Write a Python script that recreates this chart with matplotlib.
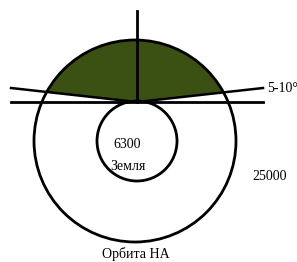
import numpy as np
import matplotlib.pyplot as plt
from matplotlib.patches import Circle, Polygon

# diagram geometry (pixel-like units, y grows downward)
orbit_center = (135, 141)
orbit_radius = 101
earth_center = (137, 141)
earth_radius = 40
horizon_y = 102
horizon_x = [11, 263]
zenith_top = 11
cone_edge_y = 88          # where the 5-10 deg lines end at x = 11 and 263
green = '#3b5114'

labels = ['6300', 'Земля', '25000', 'Орбита НА', '5-10°']
label_xy = [(127, 145), (128, 166), (252, 176), (136, 254), (267, 88)]
label_ha = ['center', 'center', 'left', 'center', 'left']

fig = plt.figure(figsize=(2.97, 2.62), dpi=100)
ax = fig.add_axes([0, 0, 1, 1])
ax.set_xlim(0, 297)
ax.set_ylim(262, 0)
ax.axis('off')

# green visibility zone: orbit arc above the two tilted lines
px, py = earth_center[0], horizon_y
slope = (cone_edge_y - horizon_y) / (horizon_x[1] - px)
cx, cy = orbit_center
r = orbit_radius

def cross(sign):
    xs = np.linspace(px, px + sign * 130, 4000)
    ys = py + slope * np.abs(xs - px)
    d = np.hypot(xs - cx, ys - cy)
    i = np.argmin(np.abs(d - r))
    return xs[i], ys[i]

xl, yl = cross(-1)
xr, yr = cross(1)
a1 = np.arctan2(yl - cy, xl - cx)
a2 = np.arctan2(yr - cy, xr - cx)
if a2 < a1:
    a2 += 2 * np.pi
ang = np.linspace(a1, a2, 200)
arc = np.column_stack([cx + r * np.cos(ang), cy + r * np.sin(ang)])
if arc[:, 1].min() > cy:
    ang = np.linspace(a1, a2 - 2 * np.pi, 200)
    arc = np.column_stack([cx + r * np.cos(ang), cy + r * np.sin(ang)])
poly = np.vstack([arc, [[px, py]]])
ax.add_patch(Polygon(poly, closed=True, facecolor=green, edgecolor='none', zorder=1))

ax.add_patch(Circle(orbit_center, orbit_radius, fill=False, lw=2, ec='black', zorder=3))
ax.add_patch(Circle(earth_center, earth_radius, fill=False, lw=2, ec='black', zorder=3))

ax.plot(horizon_x, [horizon_y, horizon_y], color='black', lw=2, zorder=4)
ax.plot([px, px], [zenith_top, horizon_y], color='black', lw=2, zorder=4)
ax.plot([horizon_x[0], px, horizon_x[1]], [cone_edge_y, horizon_y, cone_edge_y],
        color='black', lw=1.8, zorder=4)

for txt, (x, y), ha in zip(labels, label_xy, label_ha):
    ax.text(x, y, txt, ha=ha, va='center', fontsize=10,
            family='Liberation Serif', color='black', zorder=5)

fig.savefig('out.png', dpi=100)
